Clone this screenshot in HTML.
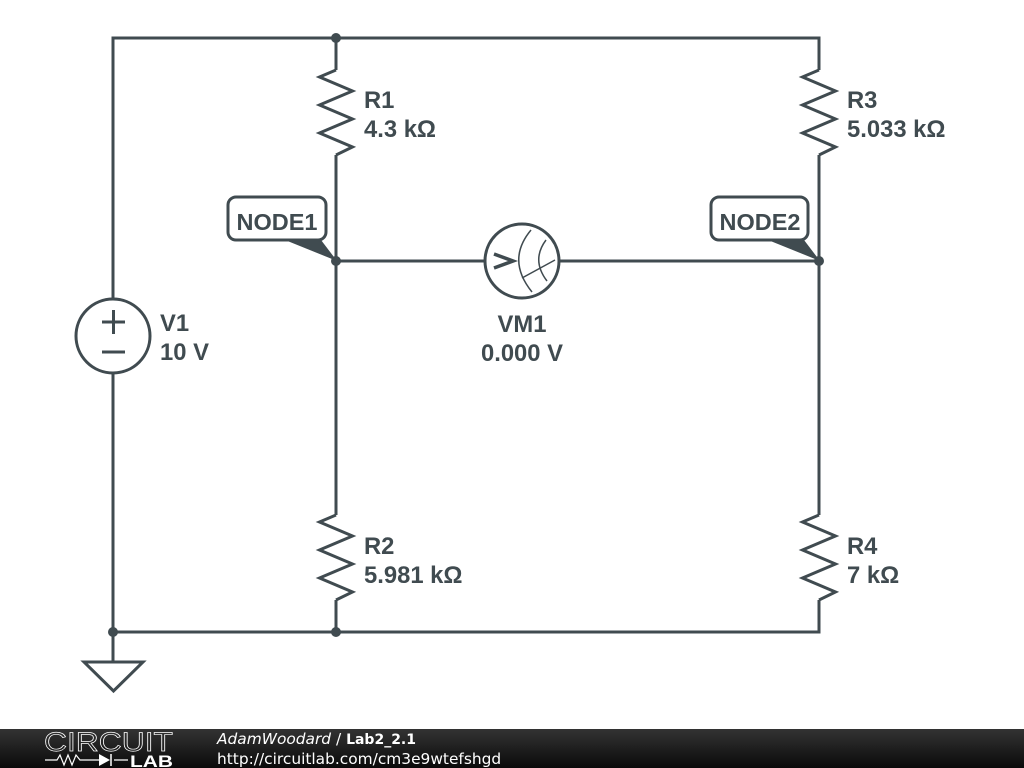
<!DOCTYPE html>
<html>
<head>
<meta charset="utf-8">
<style>
html,body{margin:0;padding:0;background:#fff;width:1024px;height:768px;overflow:hidden}
svg{display:block}
.l{font-family:"Liberation Sans",sans-serif;font-weight:700;font-size:23.800px;fill:#404b50}
.n{font-size:23.500px}
.f{font-family:"DejaVu Sans",sans-serif;font-size:15.400px;fill:#fff}
.w{fill:none;stroke:#404b50;stroke-width:3;stroke-linejoin:miter}
</style>
</head>
<body>
<svg width="1024" height="768" viewBox="0 0 1024 768" xmlns="http://www.w3.org/2000/svg">
<defs>
<linearGradient id="g" x1="0" y1="0" x2="0" y2="1"><stop offset="0" stop-color="#333"/><stop offset="1" stop-color="#0a0a0a"/></linearGradient>
</defs>
<rect width="1024" height="768" fill="#fff"/>
<!-- wires -->
<path class="w" d="M113 299V38H819V70M336 38V70M113 373V662M113 632H819V600M336 632V600M336 155V515M819 155V515M336 261H484M560 261H819"/>
<!-- resistors -->
<path class="w" d="M336 70L319.500 77L352.500 91L319.500 105L352.500 119L319.500 133L352.500 147L336 155"/>
<path class="w" d="M819 70L802.500 77L835.500 91L802.500 105L835.500 119L802.500 133L835.500 147L819 155"/>
<path class="w" d="M336 515L319.500 522L352.500 536L319.500 550L352.500 564L319.500 578L352.500 592L336 600"/>
<path class="w" d="M819 515L802.500 522L835.500 536L802.500 550L835.500 564L802.500 578L835.500 592L819 600"/>
<!-- source -->
<circle class="w" cx="113" cy="336" r="37"/>
<path class="w" d="M102 322H125M113.500 310V334M102 352H125"/>
<!-- meter -->
<circle class="w" cx="522" cy="261" r="37"/>
<path d="M494 254L513 261L494 268" fill="none" stroke="#404b50" stroke-width="3.500"/>
<path d="M531 230Q506 260 532 292M546 240Q531 260 547 281M522 278L555 260" fill="none" stroke="#404b50" stroke-width="1.500"/>
<!-- ground -->
<path class="w" d="M84 662H143L113.500 691Z"/>
<!-- node labels -->
<path d="M285 240H321L337 261Z" fill="#404b50"/>
<path d="M768 240H804L820 261Z" fill="#404b50"/>
<rect class="w" x="228" y="197" width="98" height="43" rx="8" style="fill:#fff"/>
<rect class="w" x="711" y="197" width="97" height="43" rx="8" style="fill:#fff"/>
<!-- dots -->
<g fill="#404b50">
<circle cx="336" cy="38" r="5"/><circle cx="336" cy="261" r="5"/><circle cx="819" cy="261" r="5"/><circle cx="113" cy="632" r="5"/><circle cx="336" cy="632" r="5"/>
</g>
<!-- text -->
<g>
<text class="l n" x="236.500" y="230">NODE1</text>
<text class="l n" x="719.500" y="230">NODE2</text>
<text class="l" x="364" y="108">R1</text>
<text class="l" x="364" y="137">4.3 kΩ</text>
<text class="l" x="847" y="108">R3</text>
<text class="l" x="847" y="137">5.033 kΩ</text>
<text class="l" x="364" y="554">R2</text>
<text class="l" x="364" y="583">5.981 kΩ</text>
<text class="l" x="847" y="554">R4</text>
<text class="l" x="847" y="583">7 kΩ</text>
<text class="l" x="160" y="331">V1</text>
<text class="l" x="160" y="360">10 V</text>
<text class="l" x="522" y="332" text-anchor="middle">VM1</text>
<text class="l" x="522" y="361" text-anchor="middle">0.000 V</text>
</g>
<!-- footer -->
<rect x="0" y="729" width="1024" height="39" fill="url(#g)"/>
<text x="44" y="751" font-family="Liberation Sans,sans-serif" font-size="27" fill="none" stroke="#fff" stroke-width="0.700" textLength="129" lengthAdjust="spacingAndGlyphs">CIRCUIT</text>
<path d="M45 760H57L60 755L64 765L68 755L72 765L76 755L80 760H99M114 760H128" fill="none" stroke="#fff" stroke-width="1.200"/>
<path d="M99 754L110 760L99 766Z" fill="#fff"/>
<path d="M111 754V766" stroke="#fff" stroke-width="1.500"/>
<text x="130" y="767" font-family="Liberation Sans,sans-serif" font-weight="700" font-size="17" fill="#fff" textLength="43" lengthAdjust="spacingAndGlyphs">LAB</text>
<text class="f" x="217" y="744"><tspan font-style="italic">AdamWoodard</tspan> / <tspan font-weight="700" font-size="14">Lab2_2.1</tspan></text>
<text class="f" x="217" y="764">http://circuitlab.com/cm3e9wtefshgd</text>
</svg>
</body>
</html>
